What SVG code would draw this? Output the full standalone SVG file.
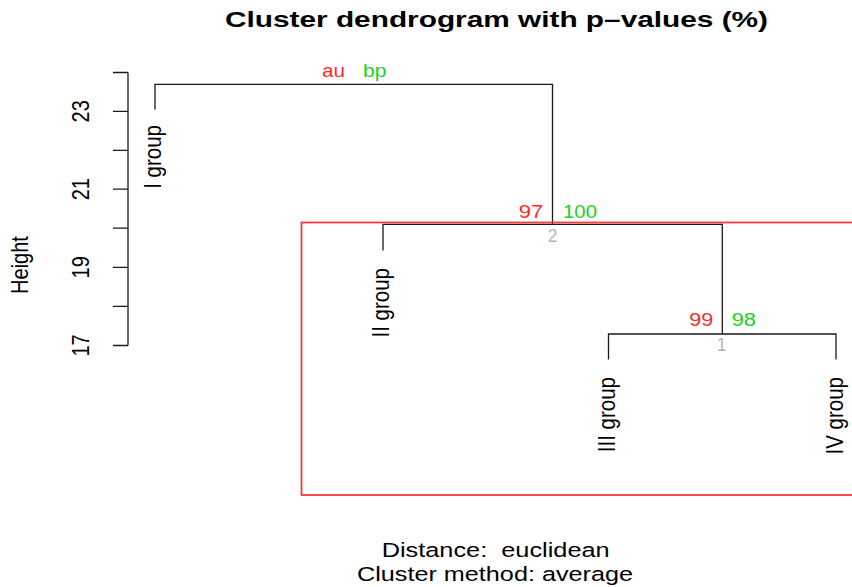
<svg xmlns="http://www.w3.org/2000/svg" width="852" height="587" viewBox="0 0 852 587">
  <style>
    text { font-family: "Liberation Sans", Arial, sans-serif; fill: #000; }
    .title { font-size: 22px; font-weight: bold; }
    .sub { font-size: 20.5px; }
    .axis-label { font-size: 20px; }
    .tick-label { font-size: 20px; text-anchor: middle; }
    .leaf { font-size: 20.5px; text-anchor: end; }
    .au { font-size: 17.5px; fill: #ff2a2a; text-anchor: end; }
    .bp { font-size: 17.5px; fill: #22d222; }
    .edge { font-size: 17.5px; fill: #b4b4b4; text-anchor: middle; }
    .tree { stroke: #1a1a1a; stroke-width: 1.3; fill: none; }
    .axis { stroke: #1a1a1a; stroke-width: 1.3; fill: none; }
    .highlight { stroke: #f43a3a; stroke-width: 1.8; fill: none; }
  </style>

  <!-- title -->
  <text class="title" x="225" y="27" textLength="543" lengthAdjust="spacingAndGlyphs">Cluster dendrogram with p–values (%)</text>

  <!-- y axis -->
  <g id="y-axis">
    <path class="axis" d="M128 72.5V345.5 M113 72.5H128 M113 111.3H128 M113 150.3H128 M113 189.2H128 M113 228.2H128 M113 267.3H128 M113 306.3H128 M113 345.5H128"/>
    <text class="tick-label" transform="translate(89,111.3) scale(1.2,1) rotate(-90)">23</text>
    <text class="tick-label" transform="translate(89,189.2) scale(1.2,1) rotate(-90)">21</text>
    <text class="tick-label" transform="translate(89,267.3) scale(1.2,1) rotate(-90)">19</text>
    <text class="tick-label" transform="translate(89,345.5) scale(1.2,1) rotate(-90)">17</text>
    <text class="axis-label" text-anchor="middle" transform="translate(28,265) scale(1.2,1) rotate(-90)">Height</text>
  </g>

  <!-- dendrogram branches -->
  <g id="connectors">
    <path class="tree" d="M155 109.5V84.3H552.5V224.3"/>
    <path class="tree" d="M383 250.5V224.3H722.3V334"/>
    <path class="tree" d="M608.5 359.5V334H836V359.5"/>
  </g>

  <!-- highlighted cluster -->
  <rect id="cluster-box" class="highlight" x="301.5" y="222.5" width="570" height="272.5"/>

  <!-- leaves -->
  <g id="leaf-I">
    <text class="leaf" transform="translate(161,125) scale(1.2,1) rotate(-90)">I group</text>
  </g>
  <g id="leaf-II">
    <text class="leaf" transform="translate(388.5,268) scale(1.2,1) rotate(-90)">II group</text>
  </g>
  <g id="leaf-III">
    <text class="leaf" transform="translate(615,377) scale(1.2,1) rotate(-90)">III group</text>
  </g>
  <g id="leaf-IV">
    <text class="leaf" transform="translate(843,377) scale(1.2,1) rotate(-90)">IV group</text>
  </g>

  <!-- cluster nodes -->
  <g id="node-root">
    <text class="au" x="345" y="76.7" textLength="23" lengthAdjust="spacingAndGlyphs">au</text>
    <text class="bp" x="363" y="76.7" textLength="23.5" lengthAdjust="spacingAndGlyphs">bp</text>
  </g>
  <g id="node-2">
    <text class="au" x="543.3" y="218" textLength="24.5" lengthAdjust="spacingAndGlyphs">97</text>
    <text class="bp" x="563" y="218" textLength="34" lengthAdjust="spacingAndGlyphs">100</text>
    <text class="edge" x="552.5" y="242">2</text>
  </g>
  <g id="node-1">
    <text class="au" x="713.3" y="326" textLength="24" lengthAdjust="spacingAndGlyphs">99</text>
    <text class="bp" x="731.7" y="326" textLength="24.3" lengthAdjust="spacingAndGlyphs">98</text>
    <text class="edge" x="721.5" y="350.7">1</text>
  </g>

  <!-- footer -->
  <text class="sub" x="381.7" y="556.7" textLength="228" lengthAdjust="spacingAndGlyphs" xml:space="preserve">Distance:  euclidean</text>
  <text class="sub" x="357" y="581" textLength="276" lengthAdjust="spacingAndGlyphs">Cluster method: average</text>
</svg>
